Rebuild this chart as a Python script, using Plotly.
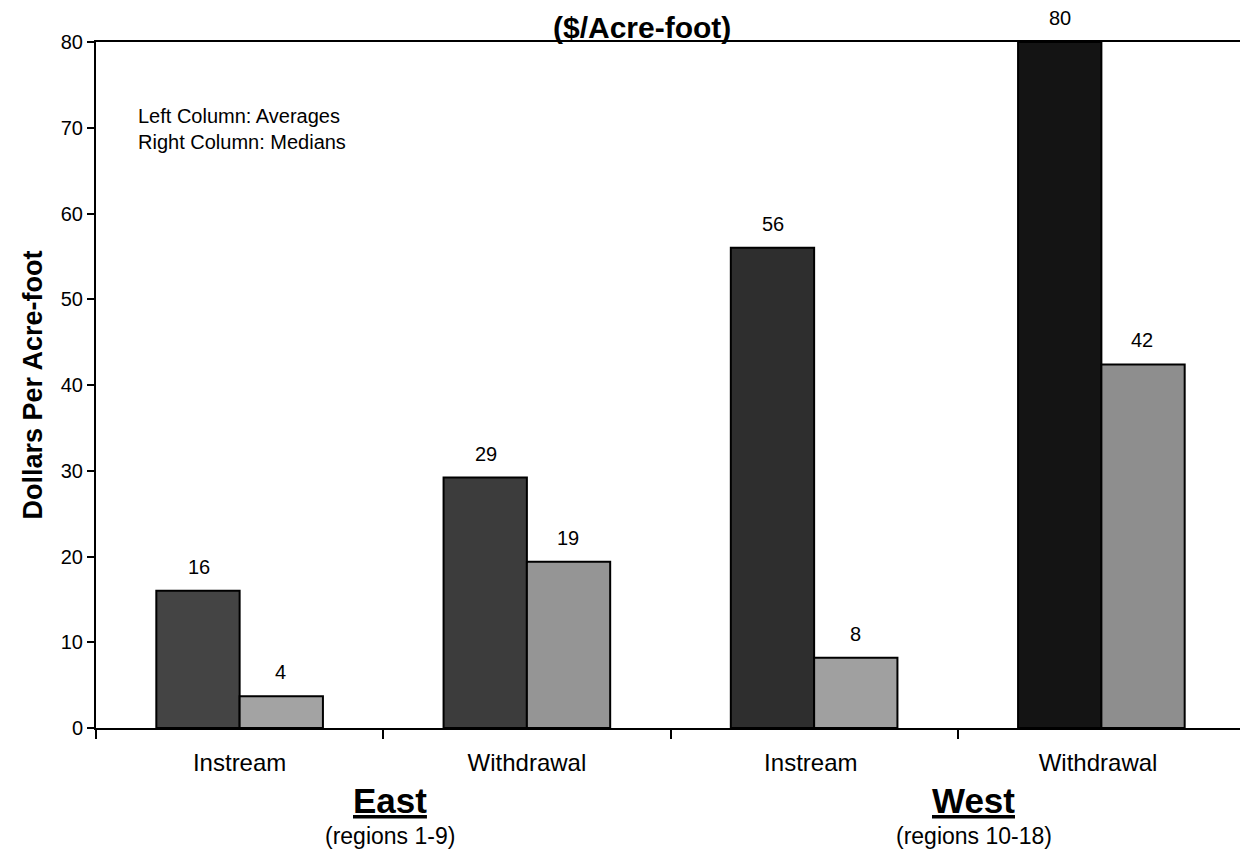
import plotly.graph_objects as go

categories = ["Instream", "Withdrawal", "Instream ", "Withdrawal "]
averages = [16, 29.2, 56, 80]
medians = [3.7, 19.4, 8.2, 42.4]
avg_colors = ["#444444", "#3c3c3c", "#2e2e2e", "#141414"]
med_colors = ["#a3a3a3", "#959595", "#a0a0a0", "#8e8e8e"]
y_ticks = [0, 10, 20, 30, 40, 50, 60, 70, 80]

FONT = "Liberation Sans, Arial, sans-serif"

fig = go.Figure()
fig.add_trace(go.Bar(x=categories, y=averages, name="Averages",
                     marker=dict(color=avg_colors, line=dict(color="black", width=2)),
                     cliponaxis=False))
fig.add_trace(go.Bar(x=categories, y=medians, name="Medians",
                     marker=dict(color=med_colors, line=dict(color="black", width=2)),
                     cliponaxis=False))

for vals, shift in ((averages, -41), (medians, 41)):
    for c, v in zip(categories, vals):
        fig.add_annotation(x=c, y=v, text=str(round(v)), showarrow=False,
                           xref="x", yref="y", xshift=shift, yanchor="middle", yshift=24,
                           font=dict(size=20, color="black", family=FONT))

fig.add_annotation(xref="paper", yref="paper", x=0.475, y=1, xanchor="center", yanchor="bottom", yshift=-3,
                   text="<b>($/Acre-foot)</b>", showarrow=False, borderpad=0,
                   font=dict(size=30, color="black", family=FONT))
fig.add_annotation(xref="paper", yref="y", x=0.035, y=69.8, xanchor="left", align="left",
                   text="Left Column: Averages<br>Right Column: Medians", showarrow=False,
                   font=dict(size=20, color="black", family=FONT))

for xp, name, sub in ((0.256, "East", "(regions 1-9)"), (0.764, "West", "(regions 10-18)")):
    fig.add_annotation(xref="paper", yref="paper", x=xp, y=0, xanchor="center", yanchor="middle",
                       yshift=-72, text=f"<b><u>{name}</u></b>", showarrow=False,
                       font=dict(size=35, color="black", family=FONT))
    fig.add_annotation(xref="paper", yref="paper", x=xp, y=0, xanchor="center", yanchor="middle",
                       yshift=-108, text=sub, showarrow=False,
                       font=dict(size=23, color="black", family=FONT))

fig.update_layout(
    width=1248, height=857,
    margin=dict(l=88, r=11, t=34, b=137),
    paper_bgcolor="white", plot_bgcolor="white",
    barmode="group", bargap=0.42, bargroupgap=0,
    showlegend=False,
    font=dict(family=FONT, color="black"),
)
fig.update_xaxes(type="category", automargin=False, showline=True, linecolor="black", linewidth=2,
                 mirror=True, tickson="boundaries", ticks="outside", ticklen=9, tickwidth=1.5,
                 tickcolor="black", ticklabelstandoff=12,
                 tickfont=dict(size=24, family=FONT, color="black"), showgrid=False)
fig.update_yaxes(range=[0, 80], tickvals=y_ticks, automargin=False, showline=True, linecolor="black",
                 linewidth=2, mirror=True, ticks="outside", ticklen=7, tickwidth=1.5, tickcolor="black",
                 tickfont=dict(size=20, family=FONT, color="black"), showgrid=False, zeroline=False,
                 title=dict(text="<b>Dollars Per Acre-foot</b>", font=dict(size=27, family=FONT, color="black"),
                            standoff=10))

fig.write_html("out.html")
